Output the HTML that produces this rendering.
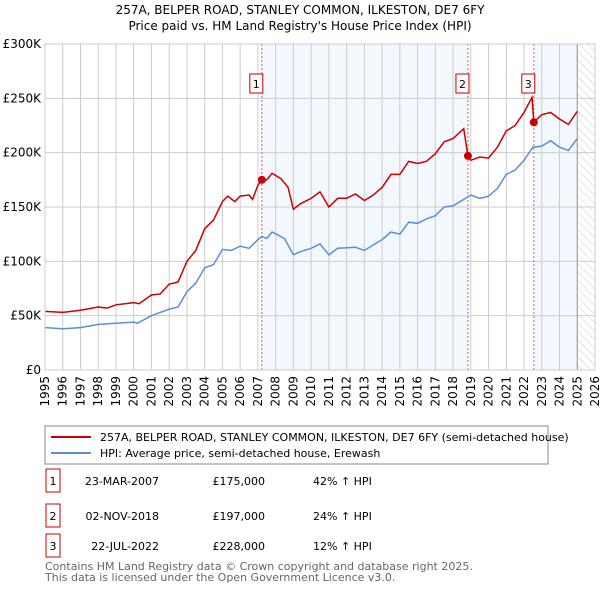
<!DOCTYPE html>
<html><head><meta charset="utf-8"><style>
body{margin:0;background:#fff;font-family:"Liberation Sans","DejaVu Sans",sans-serif;}
svg text{font-family:"DejaVu Sans","Liberation Sans",sans-serif;}
</style></head><body>
<svg id="c" width="600" height="590" xmlns="http://www.w3.org/2000/svg">
<defs><pattern id="hatch" width="6" height="6" patternUnits="userSpaceOnUse" patternTransform="rotate(-45)"><line x1="0" y1="0" x2="0" y2="6" stroke="#ccc" stroke-width="1"/></pattern></defs>
<text x="300" y="14" text-anchor="middle" font-size="12">257A, BELPER ROAD, STANLEY COMMON, ILKESTON, DE7 6FY</text>
<text x="300" y="30" text-anchor="middle" font-size="12">Price paid vs. HM Land Registry's House Price Index (HPI)</text>
<g id="plot"></g>
<rect x="45" y="426" width="503" height="38" fill="#fff" stroke="#888"/>
<line x1="51" y1="437" x2="91" y2="437" stroke="#cc0000" stroke-width="2"/>
<text x="100" y="441" font-size="11">257A, BELPER ROAD, STANLEY COMMON, ILKESTON, DE7 6FY (semi-detached house)</text>
<line x1="51" y1="453" x2="91" y2="453" stroke="#5b8fd4" stroke-width="2"/>
<text x="100" y="457" font-size="11">HPI: Average price, semi-detached house, Erewash</text>
<g id="tbl" font-size="11"></g>
<text x="45" y="570" font-size="11" fill="#666">Contains HM Land Registry data © Crown copyright and database right 2025.</text>
<text x="45" y="581" font-size="11" fill="#666">This data is licensed under the Open Government Licence v3.0.</text>
</svg>
<script>
const priceYears=[1995,1996,1997,1998,1998.5,1999,2000,2000.3,2001,2001.5,2002,2002.5,2003,2003.5,2004,2004.5,2005,2005.3,2005.7,2006,2006.5,2006.7,2007,2007.22,2007.5,2007.8,2008.3,2008.7,2009,2009.4,2010,2010.5,2011,2011.5,2012,2012.5,2013,2013.5,2014,2014.5,2015,2015.5,2016,2016.5,2017,2017.5,2018,2018.6,2018.84,2019,2019.5,2020,2020.5,2021,2021.5,2022,2022.45,2022.55,2023,2023.5,2024,2024.5,2025];
const priceVals=[54,53,55,58,57,60,62,61,69,70,79,81,100,110,130,138,155,160,155,160,161,157,170,175,175,181,176,168,148,153,158,164,150,158,158,162,156,161,168,180,180,192,190,192,199,210,213,222,197,193,196,195,205,220,225,237,251,228,235,237,231,226,238];
const hpiYears=[1995,1996,1997,1998,1999,2000,2000.2,2001,2002,2002.5,2003,2003.5,2004,2004.5,2005,2005.5,2006,2006.5,2007,2007.22,2007.5,2007.8,2008.5,2009,2009.4,2010,2010.5,2011,2011.5,2012.5,2013,2013.5,2014,2014.5,2015,2015.5,2016,2016.5,2017,2017.5,2018,2018.5,2019,2019.5,2020,2020.5,2021,2021.5,2022,2022.5,2023,2023.5,2024,2024.5,2025];
const hpiVals=[39,38,39,42,43,44,43,50,56,58,72,80,94,97,111,110,114,112,120,123,121,127,121,106,109,112,116,106,112,113,110,115,120,127,125,136,135,139,142,150,151,156,161,158,160,167,180,184,193,205,206,211,205,202,213];
const saleLabels=["1","2","3"];
const saleYears=[2007.22,2018.84,2022.55];
const saleVals=[175,197,228];
const saleDates=["23-MAR-2007","02-NOV-2018","22-JUL-2022"];
const salePrices=["£175,000","£197,000","£228,000"];
const saleHpi=["42% ↑ HPI","24% ↑ HPI","12% ↑ HPI"];
const yTicks=[0,50,100,150,200,250,300];
const yTickLabels=["£0","£50K","£100K","£150K","£200K","£250K","£300K"];
const xYears=[];for(let y=1995;y<=2026;y++)xYears.push(y);
const dataEnd=2025.0;

const X0=45,X1=595,Y0=370,Y1=44;
const x=v=>X0+(v-1995)/(2026-1995)*(X1-X0);
const y=v=>Y0-v/300*(Y0-Y1);
const NS="http://www.w3.org/2000/svg";
const g=document.getElementById('plot');
function mk(t,a,p){const e=document.createElementNS(NS,t);for(const k in a)e.setAttribute(k,a[k]);(p||g).appendChild(e);return e;}
let e;
e=mk('rect',{x:x(saleYears[0]),y:Y1,width:x(saleYears[1])-x(saleYears[0]),height:Y0-Y1,fill:'#eef3fd',opacity:0.7});


e=mk('rect',{x:x(saleYears[2]),y:Y1,width:x(dataEnd)-x(saleYears[2]),height:Y0-Y1,fill:'#eef3fd',opacity:0.7});


e=mk('rect',{x:x(dataEnd),y:Y1,width:X1-x(dataEnd),height:Y0-Y1,fill:'url(#hatch)'});


yTicks.forEach((t,i)=>{
 e=mk('line',{x1:X0,x2:X1,y1:y(t),y2:y(t),stroke:'#ccc'});
 
 
 e=mk('text',{x:X0-4,y:y(t)+4,'text-anchor':'end','font-size':12});e.textContent=yTickLabels[i];
 
 
});
xYears.forEach(yr=>{
 e=mk('line',{x1:x(yr),x2:x(yr),y1:Y1,y2:Y0,stroke:'#ccc'});
 
 
 e=mk('text',{x:0,y:0,'font-size':12,'text-anchor':'end',transform:`translate(${x(yr)+4},${Y0+6}) rotate(-90)`});e.textContent=yr;
 
 
});
e=mk('line',{x1:x(dataEnd),x2:x(dataEnd),y1:Y1,y2:Y0,stroke:'#999'});


saleYears.forEach((s,i)=>{
 e=mk('line',{x1:x(s),x2:x(s),y1:Y1,y2:Y0,stroke:'#e55','stroke-dasharray':'2,2'});
 
 
});
e=mk('polyline',{points:hpiYears.map((v,i)=>x(v)+','+y(hpiVals[i])).join(' '),fill:'none',stroke:'#5b8fd4','stroke-width':1.5});


e=mk('polyline',{points:priceYears.map((v,i)=>x(v)+','+y(priceVals[i])).join(' '),fill:'none',stroke:'#cc0000','stroke-width':1.5});


saleYears.forEach((s,i)=>{
 e=mk('circle',{cx:x(s),cy:y(saleVals[i]),r:4,fill:'#cc0000'});
 
 
 e=mk('rect',{x:x(s)-12,y:74,width:13,height:19,fill:'#fff',stroke:'#cc0000'});
 
 
 e=mk('text',{x:x(s)-5.5,y:88,'text-anchor':'middle','font-size':11});e.textContent=saleLabels[i];
 
 
});
e=mk('rect',{x:X0,y:Y1,width:X1-X0,height:Y0-Y1,fill:'none',stroke:'#ccc'});


const tb=document.getElementById('tbl');
const rowY=[481,516,546];
saleLabels.forEach((l,i)=>{
 const ry=rowY[i];
 e=mk('rect',{x:46,y:ry-12,width:14,height:23,fill:'#fff',stroke:'#cc0000'},tb);
 
 
 e=mk('text',{x:53,y:ry+4,'text-anchor':'middle'},tb);e.textContent=l;
 
 
 e=mk('text',{x:159,y:ry+4,'text-anchor':'end'},tb);e.textContent=saleDates[i];
 
 
 e=mk('text',{x:265,y:ry+4,'text-anchor':'end'},tb);e.textContent=salePrices[i];
 
 
 e=mk('text',{x:313,y:ry+4},tb);e.textContent=saleHpi[i];
 
 
});
</script>
</body></html>
